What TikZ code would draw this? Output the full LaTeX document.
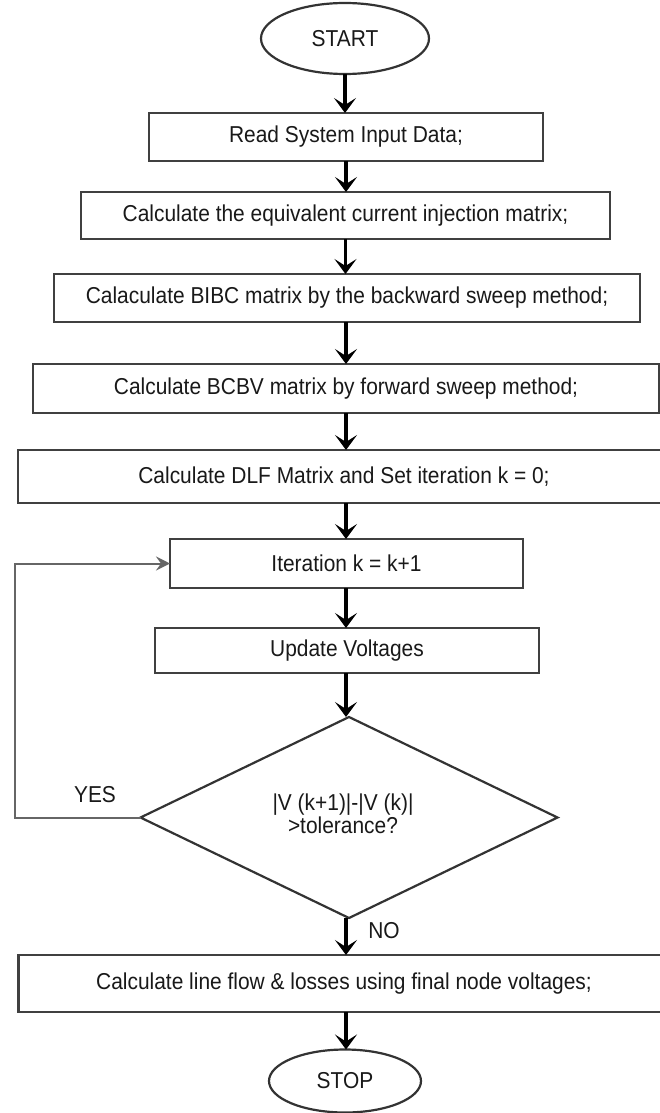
\documentclass[tikz,border=0pt]{standalone}
\usepackage{fontspec}
\setmainfont{Liberation Sans}[FakeStretch=0.91]
\usetikzlibrary{shapes.geometric,arrows.meta}
\begin{document}
\begin{tikzpicture}[x=1pt,y=-1pt,
  txt/.style={font=\fontsize{23}{25}\selectfont, text=black!90},
  proc/.style={txt, draw=black!75, line width=2.4pt, rectangle, inner sep=0pt, outer sep=0pt},
  term/.style={txt, draw=black!80, line width=2.2pt, ellipse, inner sep=0pt, outer sep=0pt},
  dec/.style={txt, draw=black!80, line width=2.2pt, diamond, inner sep=0pt, outer sep=0pt, align=center},
  arr/.style={line width=3.5pt, black, -{Stealth[length=15pt,width=22pt,inset=7pt]}},
  loopline/.style={line width=2pt, black!60, -{Stealth[length=14pt,width=14pt,inset=5pt]}},
  lbl/.style={txt}]
\useasboundingbox (0,0) rectangle (660,1113);
\clip (0,0) rectangle (660,1113);
\fill[white] (0,0) rectangle (660,1113);

\node[term, minimum width=168pt, minimum height=71pt] (start) at (345,38.5) {START};
\node[proc, minimum width=394pt, minimum height=48pt] (b1) at (346,137) {Read System Input Data;};
\node[proc, minimum width=529pt, minimum height=47pt] (b2) at (345.5,215.5) {Calculate the equivalent current injection matrix;};
\node[proc, minimum width=586pt, minimum height=48pt] (b3) at (347,298) {Calaculate BIBC matrix by the backward sweep method;};
\node[proc, minimum width=626pt, minimum height=49pt] (b4) at (346,388.5) {Calculate BCBV matrix by forward sweep method;};
\node[proc, minimum width=662pt, minimum height=53pt] (b5) at (349,476.5) {Calculate DLF Matrix and Set iteration k = 0;\hspace*{10pt}};
\node[proc, minimum width=353pt, minimum height=49pt] (b6) at (346.5,563.5) {Iteration k = k+1};
\node[proc, minimum width=384pt, minimum height=45pt] (b7) at (347,650.5) {Update Voltages};
\node[dec, minimum width=417pt, minimum height=201pt] (d) at (349,817.5) {};
\node[txt, align=center] (dtxt) at (343,813.5) {|V (k+1)|-|V (k)|\\[-2pt]>tolerance?};
\node[proc, minimum width=662pt, minimum height=57pt] (b8) at (349.5,983.5) {Calculate line flow \& losses using final node voltages;\hspace*{11pt}};
\node[term, minimum width=152pt, minimum height=63pt] (stop) at (345,1081) {STOP};

\draw[arr] (start.south) -- (start.south |- b1.north);
\draw[arr] (b1.south) -- (b1.south |- b2.north);
\draw[arr] (b2.south) -- (b2.south |- b3.north);
\draw[arr] (b3.south -| b1.south) -- (b1.south |- b4.north);
\draw[arr] (b4.south) -- (b4.south |- b5.north);
\draw[arr] (b5.south -| b4.south) -- (b4.south |- b6.north);
\draw[arr] (b6.south -| b4.south) -- (b4.south |- b7.north);
\draw[arr] (b7.south -| b4.south) -- (b4.south |- d.north);
\draw[arr] (d.south -| b4.south) -- (b4.south |- b8.north);
\draw[arr] (b8.south -| b4.south) -- (b4.south |- stop.north);

\coordinate (lc1) at (15,817.5);
\coordinate (lc2) at (15,563.5);
\draw[loopline] (d.west) -- (lc1) -- (lc2) -- (b6.west);

\node[lbl] (yes) at (95,795) {YES};
\node[lbl] (no) at (384,931) {NO};
\end{tikzpicture}
\end{document}
